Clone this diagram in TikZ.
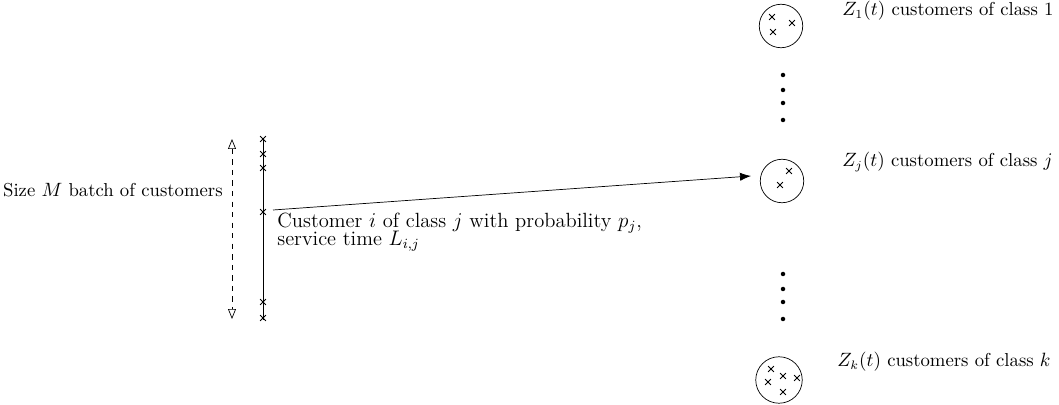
\documentclass[tikz,border=0pt]{standalone}
\usepackage{amsmath,amssymb}
\usepackage{tikz}
\usetikzlibrary{arrows.meta,shapes.misc}

\begin{document}
\begin{tikzpicture}[
  x=0.02cm, y=-0.02cm,
  font=\fontsize{10.65}{12.8}\selectfont,
  cls/.style={circle, draw, minimum size=0.87cm, inner sep=0pt},
  cust/.style={cross out, draw, minimum size=0.1cm, inner sep=0pt, line width=0.45pt},
  dot/.style={circle, fill, minimum size=0.09cm, inner sep=0pt},
  arr/.style={-{Latex[length=2.2mm]}}
]
  \useasboundingbox (0,0) rectangle (1059,405);
  % batch of customers
  \coordinate (btop) at (263,138);
  \coordinate (bbot) at (263,320);
  \draw (btop) -- (bbot);
  \foreach \y [count=\n] in {139,154,168,212,302,318}
    \node[cust] (b\n) at (263,\y) {};
  \coordinate (stop) at (232,139);
  \coordinate (sbot) at (232,319);
  \draw[dashed, {Triangle[open,length=2mm,width=1.6mm]}-{Triangle[open,length=2mm,width=1.6mm]}] (stop) -- (sbot);
  \node[anchor=base east, inner sep=0pt] (size) at (223,197) {Size $M$ batch of customers};
  % classes
  \node[cls] (c1) at (781,26) {};
  \node[cls] (cj) at (782,181) {};
  \node[cls, minimum size=0.93cm] (ck) at (779,380) {};
  \node[anchor=base west, inner sep=0pt] (l1) at (842,16) {$Z_1(t)$ customers of class 1};
  \node[anchor=base west, inner sep=0pt] (lj) at (842,167) {$Z_j(t)$ customers of class $j$};
  \node[anchor=base west, inner sep=0pt] (lk) at (837,367) {$Z_k(t)$ customers of class $k$};
  \foreach \x/\y in {772/17, 792/23, 773/32}
    \node[cust] at (\x,\y) {};
  \foreach \x/\y in {789/171, 780/185}
    \node[cust] at (\x,\y) {};
  \foreach \x/\y in {771/369, 783/376, 797/378, 768/382, 783/392}
    \node[cust] at (\x,\y) {};
  \foreach \y in {75,90,103,120,274,289,302,319}
    \node[dot] at (783,\y) {};
  % routing of customer i
  \coordinate (out) at (273,210);
  \coordinate (jin) at (751,176);
  \draw[arr] (out) -- (jin);
  \node[anchor=north west, align=left, inner sep=0pt,
        font={\fontsize{11.7}{10.2}\selectfont\lineskiplimit=-20pt\relax}] (cust) at (277,212.5)
    {Customer $i$ of class $j$ with probability $p_j$,\\ service time $L_{i,j}$};
\end{tikzpicture}
\end{document}
